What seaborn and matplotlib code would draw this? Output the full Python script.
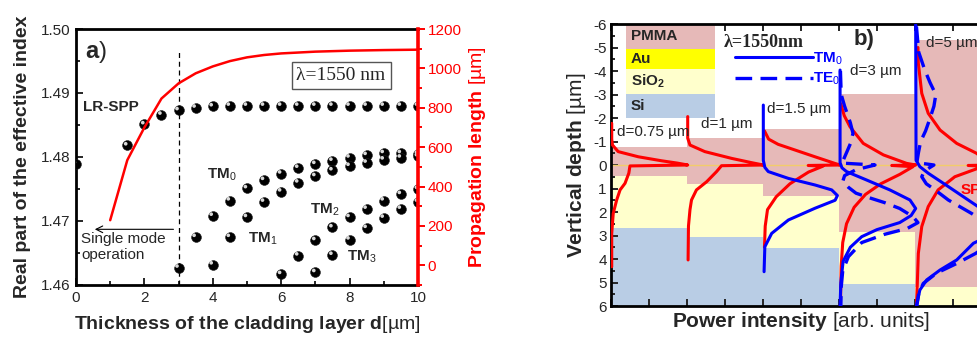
import matplotlib.pyplot as plt
import pandas as pd
import seaborn as sns
from matplotlib import transforms
from matplotlib.lines import Line2D
from matplotlib.ticker import FormatStrFormatter, MultipleLocator

sns.set_theme(style="ticks")
plt.rcParams.update({
    "font.family": ["Liberation Sans", "DejaVu Sans"],
    "mathtext.fontset": "custom",
    "mathtext.rm": "Liberation Sans",
    "mathtext.bf": "Liberation Sans:bold",
    "mathtext.it": "Liberation Sans:italic",
    "axes.unicode_minus": False,
})

# ---- panel a) : effective index of the modes vs cladding thickness ----
LR_D = [0, 1.5, 2, 2.5, 3, 3.5, 4, 4.5, 5, 5.5, 6, 6.5, 7, 7.5, 8, 8.5, 9, 9.5, 10]
LR_N = [1.4789, 1.4818, 1.4851, 1.4866, 1.4873, 1.4877, 1.4879, 1.4880, 1.4880, 1.4880,
        1.4880, 1.4880, 1.4880, 1.4880, 1.4880, 1.4880, 1.4880, 1.4880, 1.4880]
TM0_D = [3, 3.5, 4, 4.5, 5, 5.5, 6, 6.5, 7, 7.5, 8, 8.5, 9, 9.5, 10]
TM0_N = [1.4627, 1.4675, 1.4708, 1.4732, 1.4751, 1.4764, 1.4774, 1.4783, 1.4789, 1.4794,
         1.4799, 1.4803, 1.4806, 1.4806, 1.4805]
TM1_D = [4, 4.5, 5, 5.5, 6, 6.5, 7, 7.5, 8, 8.5, 9, 9.5, 10]
TM1_N = [1.4632, 1.4675, 1.4706, 1.4730, 1.4746, 1.4760, 1.4770, 1.4779, 1.4786, 1.4791,
         1.4796, 1.4799, 1.4801]
TM2_D = [6, 6.5, 7, 7.5, 8, 8.5, 9, 9.5, 10]
TM2_N = [1.4617, 1.4646, 1.4670, 1.4690, 1.4706, 1.4719, 1.4732, 1.4742, 1.4750]
TM3_D = [7, 7.5, 8, 8.5, 9, 9.5, 10]
TM3_N = [1.4620, 1.4647, 1.4671, 1.4689, 1.4705, 1.4719, 1.4730]

PROP_D = [1.0, 1.5, 2.0, 2.5, 3.0, 3.5, 4.0, 4.5, 5.0, 5.5, 6, 7, 8, 9, 10]
PROP_LEN = [229, 534, 700, 847, 924, 975, 1010, 1037, 1056, 1068, 1076, 1085, 1090, 1093, 1095]

SINGLE_MODE_CUTOFF = 3.0

# ---- panel b) : layer stacks and power profiles ----
SLOT_X = [0, 2, 4, 6, 8]
PMMA_TOP = [-0.77, -1.13, -1.53, -3.02, -5.33]
PMMA_BOTTOM = [0.45, 0.82, 1.32, 2.84, 5.2]
SIO2_BOTTOM = [2.67, 3.05, 3.53, 5.06, 6.0]
SLOT_LABELS = ["d=0.75 µm", "d=1 µm", "d=1.5 µm", "d=3 µm", "d=5 µm"]

LAYER_NAMES = ["PMMA", "Au", r"$\mathbf{SiO}_\mathbf{2}$", "Si"]
LAYER_COLORS = ["#E6B9B8", "#FFFF00", "#FFFFCC", "#B9CDE5"]
LAYER_KEY_TOP = [-6.0, -4.94, -4.09, -3.02]
LAYER_KEY_BOTTOM = [-4.94, -4.09, -3.02, -1.99]

# SPP (red) profiles: intensity position, depth
SPP_075_P = [0.02, 0.02, 0.04, 0.19, 0.72, 1.33, 1.75, 2.02, 0.5, 0.47, 0.37, 0.24, 0.15, 0.06, 0.02, 0.02]
SPP_075_Z = [-1.77, -1.1, -0.85, -0.57, -0.35, -0.18, -0.08, 0.0, 0.04, 0.35, 0.78, 1.06, 1.49, 2.06, 2.91, 4.33]
SPP_1_P = [2.02, 2.02, 2.08, 2.47, 3.18, 3.7, 4.01, 2.91, 2.78, 2.52, 2.25, 2.12, 2.08, 2.04, 2.03]
SPP_1_Z = [-2.06, -1.14, -0.85, -0.57, -0.28, -0.1, 0.0, 0.03, 0.28, 0.71, 1.06, 1.49, 1.9, 2.6, 4.04]
SPP_15_P = [4.04, 4.15, 4.4, 4.84, 5.37, 5.89, 6.03, 5.19, 5.58, 5.2, 4.71, 4.35, 4.12, 4.06, 4.04]
SPP_15_Z = [-1.45, -1.1, -0.88, -0.64, -0.35, -0.07, 0.0, 0.02, 0.05, 0.3, 0.8, 1.35, 1.9, 2.6, 3.5]
SPP_3_P = [6.05, 6.14, 6.29, 6.64, 7.17, 7.78, 8.02, 7.39, 7.95, 7.6, 7.1, 6.7, 6.4, 6.2, 6.1, 6.06, 6.04]
SPP_3_Z = [-2.6, -2.1, -1.63, -0.92, -0.43, -0.07, 0.0, 0.02, 0.07, 0.4, 0.8, 1.25, 1.8, 2.5, 3.3, 4.3, 6.0]
SPP_5_P = [8.08, 8.09, 8.18, 8.35, 8.66, 9.1, 9.62, 10.02, 9.4, 9.9, 9.66, 9.05, 8.61, 8.35, 8.18, 8.09, 8.06, 8.04]
SPP_5_Z = [-5.0, -4.33, -3.05, -2.2, -1.49, -0.92, -0.5, 0.0, 0.02, 0.06, 0.14, 0.5, 1.06, 1.77, 2.62, 3.76, 5.18, 6.0]

# TM0 (solid blue) profiles
TM_15_P = [4.01, 4.01, 4.05, 4.14, 4.67, 5.37, 5.81, 5.96, 5.9, 5.37, 4.67, 4.23, 4.05, 4.03]
TM_15_Z = [-2.55, -0.2, 0.1, 0.28, 0.57, 0.85, 1.06, 1.3, 1.5, 1.84, 2.34, 2.91, 3.48, 4.54]
TM_3_P = [6.03, 6.03, 6.08, 6.2, 6.73, 7.34, 7.87, 8.02, 7.9, 7.6, 7.0, 6.6, 6.3, 6.11, 6.05, 6.03]
TM_3_Z = [-4.04, -0.1, 0.12, 0.28, 0.64, 1.06, 1.49, 1.85, 2.15, 2.45, 2.75, 3.05, 3.5, 4.1, 5.0, 6.0]
TM_5_P = [8.02, 8.03, 8.13, 8.35, 8.88, 9.66, 10.1, 10.1, 9.54, 9.1, 8.66, 8.31, 8.13, 8.04]
TM_5_Z = [-6.0, -0.2, 0.07, 0.35, 0.92, 1.77, 2.4, 2.9, 3.33, 4.04, 4.47, 4.89, 5.32, 6.0]

# TE0 (dashed blue) profiles
TE_3_P = [6.04, 6.06, 6.15, 6.3, 6.37, 6.3, 6.18, 6.08, 6.95, 6.45, 6.15, 6.1, 6.25, 6.45, 6.85,
          7.2, 7.6, 7.95, 8.08, 7.8, 7.2, 6.6, 6.25, 6.1, 6.06, 6.05]
TE_3_Z = [-4.0, -3.0, -2.5, -1.8, -1.35, -0.9, -0.45, -0.08, 0.0, 0.2, 0.45, 0.7, 0.95, 1.2, 1.42,
          1.6, 1.85, 2.2, 2.45, 2.7, 2.95, 3.3, 3.9, 4.5, 5.2, 6.0]
TE_5_P = [8.04, 8.1, 8.26, 8.4, 8.55, 8.5, 8.4, 8.28, 8.15, 8.09, 8.05, 8.5, 8.25, 8.18, 8.3,
          8.53, 8.88, 9.49, 10.0, 10.1, 9.6, 9.1, 8.57, 8.22, 8.1, 8.05]
TE_5_Z = [-5.9, -4.8, -4.04, -3.5, -3.0, -2.5, -2.0, -1.45, -1.0, -0.5, -0.1, 0.0, 0.25, 0.5, 0.8,
          1.06, 1.49, 2.06, 2.6, 3.2, 3.76, 4.19, 4.6, 5.04, 5.46, 6.0]

RED = "#FF0000"
BLUE = "#0000FF"
DASH = (0, (5, 2.5))


def draw_panel_a(fig):
    ax = fig.add_axes([0.0777, 0.1618, 0.3497, 0.7529])

    modes = pd.concat([
        pd.DataFrame({"d": LR_D, "neff": LR_N}),
        pd.DataFrame({"d": TM0_D, "neff": TM0_N}),
        pd.DataFrame({"d": TM1_D, "neff": TM1_N}),
        pd.DataFrame({"d": TM2_D, "neff": TM2_N}),
        pd.DataFrame({"d": TM3_D, "neff": TM3_N}),
    ], ignore_index=True)

    sns.scatterplot(data=modes, x="d", y="neff", color="black", s=50, edgecolor="#202020",
                    linewidth=0.4, ax=ax, zorder=3)
    shine = transforms.offset_copy(ax.transData, fig=fig, x=-1.6, y=1.7, units="dots")
    ax.scatter(modes["d"], modes["neff"], s=7, color="#d8d8d8", edgecolor="none",
               transform=shine, zorder=4)

    ax.vlines(SINGLE_MODE_CUTOFF, 1.46, 1.4967, colors="black", linestyles=(0, (4, 3)), lw=0.9, zorder=2)
    ax.annotate("", xy=(0.55, 1.4687), xytext=(2.85, 1.4687),
                arrowprops=dict(arrowstyle="->", lw=0.8, color="black", shrinkA=0, shrinkB=0))
    ax.text(0.15, 1.4683, "Single mode\noperation", fontsize=11, ha="left", va="top", linespacing=1.15)

    ax.text(0.25, 1.4964, r"$\mathbf{a}$)", fontsize=17, ha="left", va="center")
    ax.text(0.2, 1.4878, "LR-SPP", fontsize=11, fontweight="bold", ha="left", va="center")
    ax.text(3.82, 1.4772, r"$\mathbf{TM}_0$", fontsize=11, ha="left", va="center")
    ax.text(5.04, 1.4672, r"$\mathbf{TM}_1$", fontsize=11, ha="left", va="center")
    ax.text(6.85, 1.4718, r"$\mathbf{TM}_2$", fontsize=11, ha="left", va="center")
    ax.text(7.93, 1.4644, r"$\mathbf{TM}_3$", fontsize=11, ha="left", va="center")
    ax.text(7.75, 1.4927, "λ=1550 nm", family="Liberation Serif", fontsize=14, ha="center", va="center",
            bbox=dict(boxstyle="square,pad=0.25", fc="white", ec="#555555", lw=1))

    ax.set_xlim(0, 10)
    ax.set_ylim(1.46, 1.50)
    ax.xaxis.set_major_locator(MultipleLocator(2))
    ax.xaxis.set_minor_locator(MultipleLocator(1))
    ax.yaxis.set_major_locator(MultipleLocator(0.01))
    ax.yaxis.set_minor_locator(MultipleLocator(0.005))
    ax.yaxis.set_major_formatter(FormatStrFormatter("%.2f"))
    ax.tick_params(which="both", direction="in", width=1.4, labelsize=11, pad=4)
    ax.tick_params(which="major", length=5)
    ax.tick_params(which="minor", length=3)
    for side in ["left", "bottom", "top"]:
        ax.spines[side].set_linewidth(2)
        ax.spines[side].set_color("black")
    ax.spines["right"].set_visible(False)
    ax.set_xlabel(r"$\mathbf{Thickness\ of\ the\ cladding\ layer\ d}$[µm]", fontsize=14, labelpad=7)
    ax.set_ylabel("Real part of the effective index", fontsize=14, fontweight="bold", labelpad=7)

    ax2 = ax.twinx()
    sns.lineplot(x=PROP_D, y=PROP_LEN, color=RED, lw=1.8, ax=ax2, sort=False, estimator=None)
    ax2.set_ylim(-100, 1200)
    ax2.yaxis.set_major_locator(MultipleLocator(200))
    ax2.yaxis.set_minor_locator(MultipleLocator(100))
    ax2.tick_params(which="both", direction="out", colors=RED, width=1.4, labelsize=11, pad=2)
    ax2.tick_params(which="major", length=5)
    ax2.tick_params(which="minor", length=3)
    for side in ["left", "bottom", "top"]:
        ax2.spines[side].set_visible(False)
    ax2.spines["right"].set_color(RED)
    ax2.spines["right"].set_linewidth(2.6)
    ax2.set_ylabel(r"$\mathbf{Propagation\ length}$ [µm]", color=RED, fontsize=14, labelpad=4)


def draw_panel_b(fig):
    bx = fig.add_axes([0.6247, 0.1, 0.3885, 0.8294])

    pmma_h = [b - t for t, b in zip(PMMA_TOP, PMMA_BOTTOM)]
    sio2_h = [s - b for b, s in zip(PMMA_BOTTOM, SIO2_BOTTOM)]
    si_h = [6.0 - s for s in SIO2_BOTTOM]
    bx.bar(SLOT_X, pmma_h, bottom=PMMA_TOP, width=2, align="edge", color=LAYER_COLORS[0], lw=0, zorder=0)
    bx.bar(SLOT_X, sio2_h, bottom=PMMA_BOTTOM, width=2, align="edge", color=LAYER_COLORS[2], lw=0, zorder=0)
    bx.bar(SLOT_X, si_h, bottom=SIO2_BOTTOM, width=2, align="edge", color=LAYER_COLORS[3], lw=0, zorder=0)
    bx.axhline(0, color="#F2CC6A", lw=1.0, zorder=1)

    key_h = [b - t for t, b in zip(LAYER_KEY_TOP, LAYER_KEY_BOTTOM)]
    bx.bar(0.39, key_h, bottom=LAYER_KEY_TOP, width=2.35, align="edge", color=LAYER_COLORS, lw=0, zorder=2)
    for name, t, b in zip(LAYER_NAMES, LAYER_KEY_TOP, LAYER_KEY_BOTTOM):
        bx.text(0.53, (t + b) / 2, name, fontsize=11, fontweight="bold", ha="left", va="center", zorder=5)

    for p, z in [(SPP_075_P, SPP_075_Z), (SPP_1_P, SPP_1_Z), (SPP_15_P, SPP_15_Z),
                 (SPP_3_P, SPP_3_Z), (SPP_5_P, SPP_5_Z)]:
        sns.lineplot(x=p, y=z, sort=False, estimator=None, color=RED, lw=2.2, ax=bx, zorder=3)
    for p, z in [(TM_15_P, TM_15_Z), (TM_3_P, TM_3_Z), (TM_5_P, TM_5_Z)]:
        sns.lineplot(x=p, y=z, sort=False, estimator=None, color=BLUE, lw=2.2, ax=bx, zorder=4)
    for p, z in [(TE_3_P, TE_3_Z), (TE_5_P, TE_5_Z)]:
        sns.lineplot(x=p, y=z, sort=False, estimator=None, color=BLUE, lw=2.4, linestyle=DASH, ax=bx, zorder=4)

    label_pos = [(0.17, -1.39), (2.37, -1.73), (4.12, -2.37), (6.3, -4.0), (8.3, -5.18)]
    for text, (x, z) in zip(SLOT_LABELS, label_pos):
        bx.text(x, z, text, fontsize=11, ha="left", va="center", zorder=5)
    bx.text(9.2, 1.06, "SPP", color=RED, fontsize=11, fontweight="bold", ha="left", va="center", zorder=5)
    bx.text(2.98, -5.2, "λ=1550nm", family="Liberation Serif", fontweight="bold", fontsize=13,
            ha="left", va="center", zorder=5)
    bx.text(6.38, -5.35, "b)", fontsize=16, fontweight="bold", ha="left", va="center", zorder=5)

    handles = [Line2D([], [], color=BLUE, lw=2.2, label=r"$\mathbf{TM}_0$"),
               Line2D([], [], color=BLUE, lw=2.4, linestyle=DASH, label=r"$\mathbf{TE}_0$")]
    leg = bx.legend(handles=handles, loc="upper left", bbox_to_anchor=(0.326, 0.905), frameon=False,
                    fontsize=11, handlelength=5.1, handletextpad=0.0, labelspacing=0.25,
                    borderpad=0, borderaxespad=0)
    for t in leg.get_texts():
        t.set_color(BLUE)

    bx.set_xlim(0, 10)
    bx.set_ylim(6, -6)
    bx.xaxis.set_major_locator(MultipleLocator(1))
    bx.yaxis.set_major_locator(MultipleLocator(1))
    bx.yaxis.set_minor_locator(MultipleLocator(0.5))
    bx.tick_params(which="both", direction="in", width=1.4, top=True, bottom=True, left=True, right=False,
                   labelbottom=False, labelsize=11, pad=3)
    bx.tick_params(which="major", length=5)
    bx.tick_params(which="minor", length=3)
    for side in ["left", "bottom", "top", "right"]:
        bx.spines[side].set_linewidth(2)
        bx.spines[side].set_color("black")
    bx.set_xlabel(r"$\mathbf{Power\ intensity}$ [arb. units]", fontsize=15, labelpad=3)
    bx.set_ylabel(r"$\mathbf{Vertical\ depth}$ [µm]", fontsize=15, labelpad=4)


fig = plt.figure(figsize=(9.78, 3.4), dpi=100)
draw_panel_a(fig)
draw_panel_b(fig)
fig.savefig("out.png", dpi=100)
plt.close(fig)
